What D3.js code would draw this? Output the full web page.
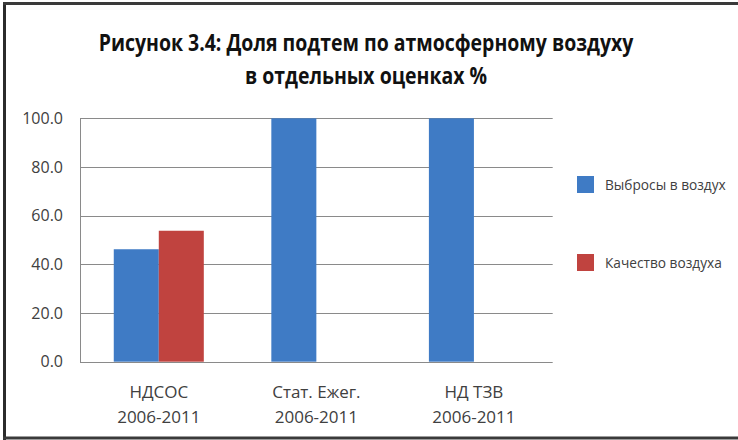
<!DOCTYPE html>
<html><head><meta charset="utf-8">
<script src="https://cdn.jsdelivr.net/npm/d3@7"></script>
<style>body{margin:0;background:#fff}svg{display:block}</style>
</head><body>
<svg id="c" width="738" height="440"></svg>
<script>
const categories = ["НДСОС\n2006-2011", "Стат. Ежег.\n2006-2011", "НД ТЗВ\n2006-2011"];
const seriesNames = ["Выбросы в воздух", "Качество воздуха"];
const emissions = [46.2, 100, 100];
const quality = [53.8, 0, 0];
const yTicks = [0, 20, 40, 60, 80, 100];
const titleLines = ["Рисунок 3.4: Доля подтем по атмосферному воздуху", "в отдельных оценках %"];

const colors = ["#3f7bc5", "#c0433f"];
const svg = d3.select("#c");
const font = "'Open Sans', 'Noto Sans', sans-serif";

// frame
svg.append("rect").attr("x", 0).attr("y", 0).attr("width", 738).attr("height", 440).attr("fill", "#fff");
svg.append("line").attr("x1", 4.5).attr("x2", 4.5).attr("y1", 2).attr("y2", 440).attr("stroke", "#2b2b2b").attr("stroke-width", 3);
svg.append("line").attr("x1", 3).attr("x2", 738).attr("y1", 3.5).attr("y2", 3.5).attr("stroke", "#3a3a3a").attr("stroke-width", 3);
svg.append("line").attr("x1", 3).attr("x2", 738).attr("y1", 438).attr("y2", 438).attr("stroke", "#3a3a3a").attr("stroke-width", 3);

// title (condensed look via horizontal scale)
const titleSize = 23;
let sx = 1;
titleLines.forEach((t, i) => {
  const el = svg.append("text").attr("x", 0).attr("y", 0)
    .attr("text-anchor", "middle").attr("font-family", font).attr("font-weight", "bold")
    .attr("font-size", titleSize).attr("fill", "#111").text(t);
  if (i === 0) sx = 535 / el.node().getComputedTextLength();
  el.attr("transform", `translate(366,${i === 0 ? 51 : 84}) scale(${sx},1)`);
});

const x0 = d3.scaleBand().domain(categories).range([80, 552.7]).paddingInner(0).paddingOuter(0);
const x1 = d3.scaleBand().domain([0, 1]).range([0, x0.bandwidth()]).paddingInner(0).paddingOuter(0.75);
const y = d3.scaleLinear().domain([0, 100]).range([361.7, 118.3]);

// gridlines
const g = svg.append("g");
g.selectAll("line.grid").data(yTicks).enter().append("line")
  .attr("x1", 80).attr("x2", 552.7).attr("y1", d => Math.round(y(d)) + 0.5).attr("y2", d => Math.round(y(d)) + 0.5)
  .attr("stroke", "#8a8a8a").attr("stroke-width", 1);
svg.append("line").attr("x1", 80.5).attr("x2", 80.5).attr("y1", Math.round(y(100)) + 0.5).attr("y2", Math.round(y(0)) + 0.5)
  .attr("stroke", "#8a8a8a");

// y axis labels
const yAxis = d3.axisLeft(y).tickValues(yTicks).tickFormat(d3.format(".1f")).tickSize(0).tickPadding(17);
const ya = svg.append("g").attr("transform", "translate(80,0)").call(yAxis);
ya.select(".domain").remove();
ya.selectAll("text").attr("font-family", font).attr("font-size", 16).attr("fill", "#404040");

// bars
const data = categories.map((c, i) => ({ c, v: [emissions[i], quality[i]] }));
const grp = svg.append("g").selectAll("g").data(data).enter().append("g")
  .attr("transform", d => `translate(${x0(d.c)},0)`);
grp.selectAll("rect").data(d => d.v.map((v, k) => ({ v, k }))).enter().append("rect")
  .attr("x", d => x1(d.k)).attr("width", x1.bandwidth())
  .attr("y", d => y(d.v)).attr("height", d => y(0) - y(d.v))
  .attr("fill", d => colors[d.k]);

// x labels
const xl = svg.append("g").selectAll("text").data(categories).enter().append("text")
  .attr("x", d => x0(d) + x0.bandwidth() / 2).attr("y", 398)
  .attr("text-anchor", "middle").attr("font-family", font).attr("font-size", 17).attr("fill", "#404040");
xl.each(function(d) {
  const parts = d.split("\n");
  const t = d3.select(this);
  parts.forEach((p, i) => t.append("tspan").attr("x", t.attr("x")).attr("dy", i === 0 ? 0 : 24.5).text(p));
});

// legend
const leg = svg.append("g");
seriesNames.forEach((n, i) => {
  const yy = i === 0 ? 176 : 254;
  leg.append("rect").attr("x", 577).attr("y", yy).attr("width", 17).attr("height", 17).attr("fill", colors[i]);
  leg.append("text").attr("x", 605).attr("y", yy + 13.5).attr("font-family", font).attr("font-size", 13.7)
    .attr("fill", "#404040").text(n);
});
</script>
</body></html>
